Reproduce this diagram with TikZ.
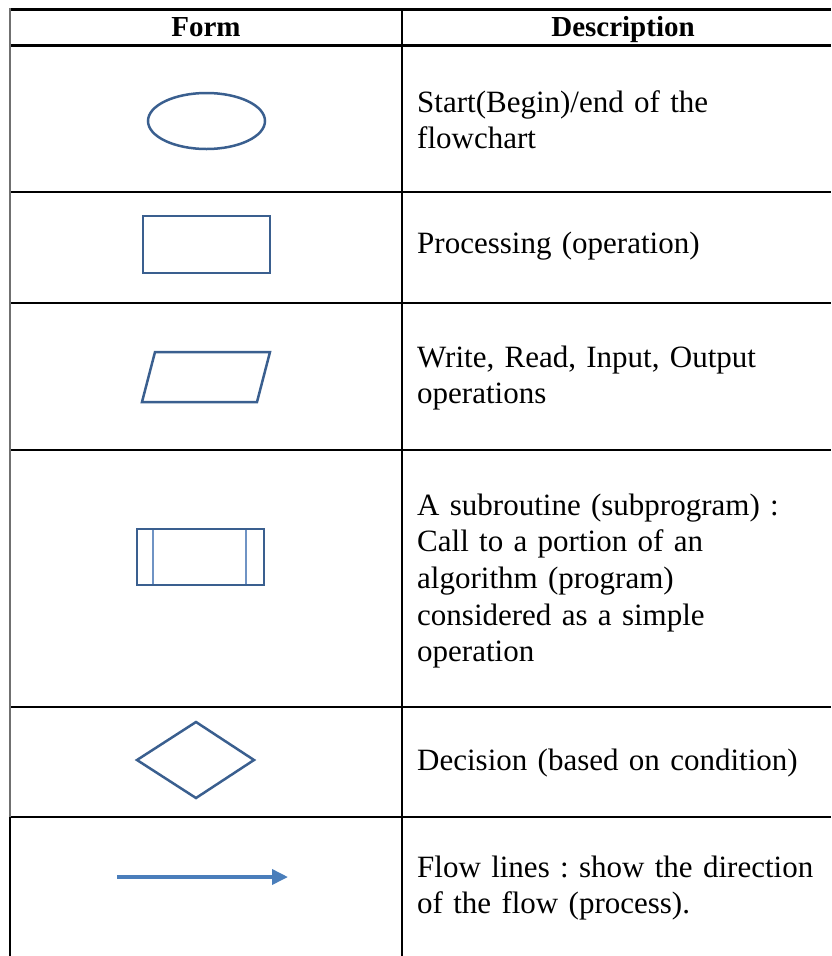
\documentclass[tikz,border=0pt]{standalone}
\usepackage{fontspec}
\setmainfont{Liberation Serif}
\frenchspacing
\usetikzlibrary{shapes.geometric,arrows.meta}

\definecolor{shapeblue}{HTML}{3A5F8F}
\definecolor{innerblue}{HTML}{6F93C4}
\definecolor{flowblue}{HTML}{4A7EBB}
\definecolor{edgegray}{HTML}{707070}

\tikzset{
  rule/.style={line width=2.6pt, black},
  vrule/.style={line width=1.8pt, black},
  symb/.style={draw=shapeblue, line width=2.5pt, inner sep=0pt},
  desc/.style={anchor=base west, text width=420pt, align=left, inner sep=0pt,
    font=\frenchspacing\fontsize{31}{36.7}\selectfont},
  head/.style={anchor=base, inner sep=0pt, font=\fontsize{29}{30}\selectfont\bfseries},
}

\begin{document}
\begin{tikzpicture}[x=1pt, y=-1pt]
\useasboundingbox (0,0) rectangle (831,956);

% table grid
\draw[rule, line width=3pt] (10,9) -- (831,9);
\draw[rule, line width=3pt] (10,45) -- (831,45);
\foreach \yy in {192,303,450,707,817}
  \draw[rule] (10,\yy) -- (831,\yy);
\draw[edgegray, line width=1.8pt] (10,8) -- (10,817);
\draw[vrule, line width=2.2pt] (10,817) -- (10,956);
\draw[vrule] (402,9) -- (402,817);
\draw[vrule, line width=2.4pt] (402,817) -- (402,956);

% header
\node[head] (hform) at (206,36) {Form};
\node[head] (hdesc) at (623,36) {Description};

% terminal
\node[symb, ellipse, minimum width=117pt, minimum height=56pt] (term) at (206.5,121) {};
\node[desc] (dterm) at (417,112) {Start(Begin)/end of the\\flowchart};

% process
\node[symb, rectangle, minimum width=127pt, minimum height=57pt] (proc) at (206.5,244.5) {};
\node[desc] (dproc) at (417,253) {Processing (operation)};

% input / output
\draw[symb] (155,352) -- (270,352) -- (257,402) -- (142,402) -- cycle;
\node[desc] (dio) at (417,367) {Write, Read, Input, Output\\operations};

% subroutine
\node[symb, rectangle, minimum width=127pt, minimum height=56pt] (sub) at (200.5,557) {};
\draw[innerblue, line width=1.5pt] (153,530) -- (153,584);
\draw[innerblue, line width=1.5pt] (246,530) -- (246,584);
\node[desc] (dsub) at (417,515) {A subroutine (subprogram) :\\Call to a portion of an\\algorithm (program)\\considered as a simple\\operation};

% decision
\draw[symb] (137,760) -- (196,722) -- (254,760) -- (196,798) -- cycle;
\node[desc] (ddec) at (417,770) {Decision (based on condition)};

% flow line
\coordinate (fa) at (117,877);
\coordinate (fb) at (288,877);
\draw[flowblue, line width=3.6pt, -{Triangle[length=16pt,width=15pt]}] (fa) -- (fb);
\node[desc] (dflow) at (417,877) {Flow lines : show the direction\\of the flow (process).};
\end{tikzpicture}
\end{document}
